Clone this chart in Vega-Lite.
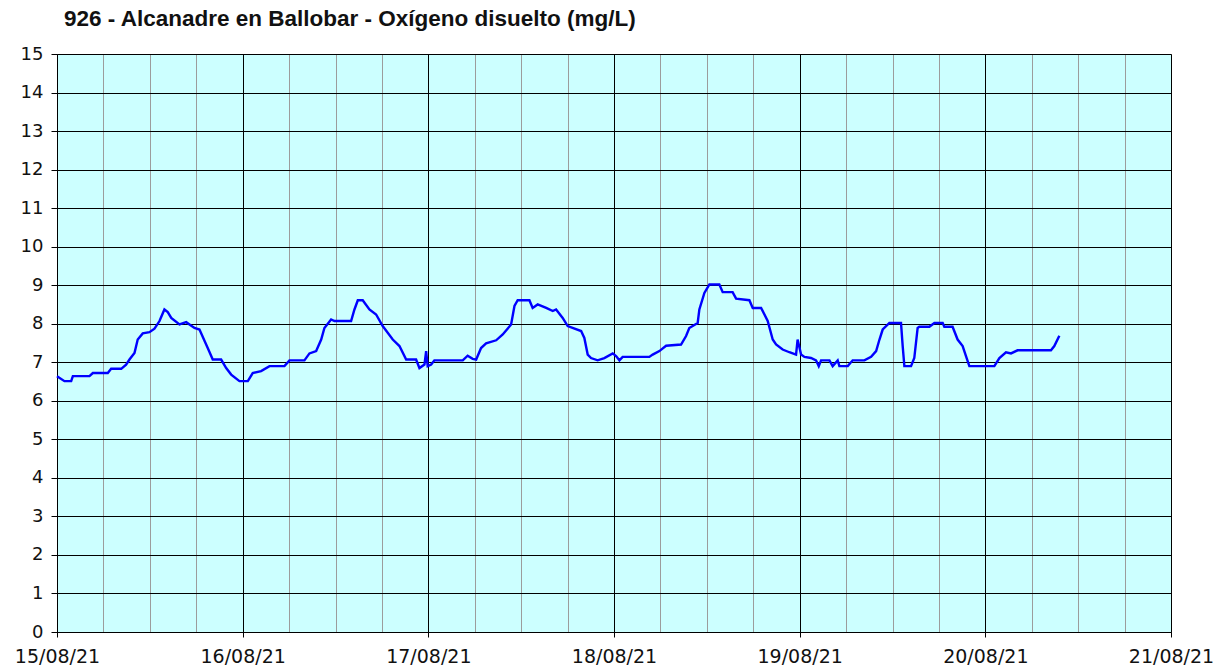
{
  "$schema": "https://vega.github.io/schema/vega-lite/v6.json",
  "width": 1114,
  "height": 578,
  "autosize": {"type": "none"},
  "padding": {"left": 57, "top": 54, "right": 61, "bottom": 40},
  "background": "white",
  "title": {
    "text": "926 - Alcanadre en Ballobar - Oxígeno disuelto (mg/L)",
    "anchor": "start",
    "frame": "group",
    "dx": 7,
    "font": "Liberation Sans",
    "fontSize": 22.5,
    "fontWeight": "bold",
    "color": "#111111",
    "offset": 15
  },
  "config": {
    "view": {"fill": "#ccffff", "stroke": "#a0a0a0", "strokeWidth": 1},
    "axis": {
      "labelFont": "DejaVu Sans",
      "labelFontSize": 18,
      "labelColor": "#111111",
      "domainColor": "#000000",
      "tickColor": "#000000",
      "domainWidth": 1,
      "tickWidth": 1,
      "gridWidth": 1,
      "gridOpacity": 1
    }
  },
  "data": {
    "values": [
      {"t": "2021-08-15T00:00", "v": 6.64},
      {"t": "2021-08-15T00:58", "v": 6.51},
      {"t": "2021-08-15T01:50", "v": 6.51},
      {"t": "2021-08-15T02:03", "v": 6.64},
      {"t": "2021-08-15T04:12", "v": 6.64},
      {"t": "2021-08-15T04:38", "v": 6.72},
      {"t": "2021-08-15T06:34", "v": 6.72},
      {"t": "2021-08-15T07:00", "v": 6.83},
      {"t": "2021-08-15T08:18", "v": 6.83},
      {"t": "2021-08-15T08:56", "v": 6.94},
      {"t": "2021-08-15T09:22", "v": 7.07},
      {"t": "2021-08-15T10:01", "v": 7.24},
      {"t": "2021-08-15T10:26", "v": 7.59},
      {"t": "2021-08-15T11:05", "v": 7.75},
      {"t": "2021-08-15T11:57", "v": 7.78},
      {"t": "2021-08-15T12:36", "v": 7.87},
      {"t": "2021-08-15T13:15", "v": 8.07},
      {"t": "2021-08-15T13:53", "v": 8.37},
      {"t": "2021-08-15T14:19", "v": 8.30},
      {"t": "2021-08-15T14:46", "v": 8.15},
      {"t": "2021-08-15T15:50", "v": 7.98},
      {"t": "2021-08-15T16:42", "v": 8.04},
      {"t": "2021-08-15T17:46", "v": 7.89},
      {"t": "2021-08-15T18:25", "v": 7.85},
      {"t": "2021-08-15T19:29", "v": 7.37},
      {"t": "2021-08-15T20:08", "v": 7.07},
      {"t": "2021-08-15T21:13", "v": 7.07},
      {"t": "2021-08-15T21:52", "v": 6.85},
      {"t": "2021-08-15T22:31", "v": 6.68},
      {"t": "2021-08-15T23:35", "v": 6.51},
      {"t": "2021-08-16T00:40", "v": 6.51},
      {"t": "2021-08-16T01:18", "v": 6.72},
      {"t": "2021-08-16T02:23", "v": 6.77},
      {"t": "2021-08-16T03:28", "v": 6.90},
      {"t": "2021-08-16T05:24", "v": 6.90},
      {"t": "2021-08-16T06:03", "v": 7.05},
      {"t": "2021-08-16T07:59", "v": 7.05},
      {"t": "2021-08-16T08:38", "v": 7.23},
      {"t": "2021-08-16T09:30", "v": 7.29},
      {"t": "2021-08-16T10:09", "v": 7.59},
      {"t": "2021-08-16T10:34", "v": 7.89},
      {"t": "2021-08-16T11:26", "v": 8.11},
      {"t": "2021-08-16T11:52", "v": 8.07},
      {"t": "2021-08-16T14:01", "v": 8.07},
      {"t": "2021-08-16T14:27", "v": 8.37},
      {"t": "2021-08-16T14:53", "v": 8.61},
      {"t": "2021-08-16T15:31", "v": 8.61},
      {"t": "2021-08-16T16:23", "v": 8.37},
      {"t": "2021-08-16T17:15", "v": 8.24},
      {"t": "2021-08-16T18:06", "v": 7.94},
      {"t": "2021-08-16T19:24", "v": 7.59},
      {"t": "2021-08-16T20:16", "v": 7.42},
      {"t": "2021-08-16T21:08", "v": 7.07},
      {"t": "2021-08-16T22:25", "v": 7.07},
      {"t": "2021-08-16T22:51", "v": 6.85},
      {"t": "2021-08-16T23:30", "v": 6.94},
      {"t": "2021-08-16T23:43", "v": 7.29},
      {"t": "2021-08-16T23:55", "v": 6.90},
      {"t": "2021-08-17T00:22", "v": 6.94},
      {"t": "2021-08-17T00:47", "v": 7.05},
      {"t": "2021-08-17T04:27", "v": 7.05},
      {"t": "2021-08-17T05:05", "v": 7.17},
      {"t": "2021-08-17T05:44", "v": 7.09},
      {"t": "2021-08-17T06:11", "v": 7.07},
      {"t": "2021-08-17T06:49", "v": 7.37},
      {"t": "2021-08-17T07:28", "v": 7.49},
      {"t": "2021-08-17T08:46", "v": 7.57},
      {"t": "2021-08-17T09:37", "v": 7.72},
      {"t": "2021-08-17T10:42", "v": 7.98},
      {"t": "2021-08-17T11:08", "v": 8.46},
      {"t": "2021-08-17T11:33", "v": 8.61},
      {"t": "2021-08-17T13:04", "v": 8.61},
      {"t": "2021-08-17T13:29", "v": 8.41},
      {"t": "2021-08-17T14:08", "v": 8.50},
      {"t": "2021-08-17T15:14", "v": 8.41},
      {"t": "2021-08-17T16:05", "v": 8.33},
      {"t": "2021-08-17T16:31", "v": 8.37},
      {"t": "2021-08-17T17:22", "v": 8.15},
      {"t": "2021-08-17T18:01", "v": 7.94},
      {"t": "2021-08-17T19:45", "v": 7.81},
      {"t": "2021-08-17T20:10", "v": 7.63},
      {"t": "2021-08-17T20:36", "v": 7.20},
      {"t": "2021-08-17T21:02", "v": 7.11},
      {"t": "2021-08-17T21:53", "v": 7.05},
      {"t": "2021-08-17T22:45", "v": 7.11},
      {"t": "2021-08-17T23:50", "v": 7.23},
      {"t": "2021-08-18T00:16", "v": 7.16},
      {"t": "2021-08-18T00:42", "v": 7.05},
      {"t": "2021-08-18T01:07", "v": 7.14},
      {"t": "2021-08-18T04:34", "v": 7.14},
      {"t": "2021-08-18T05:00", "v": 7.20},
      {"t": "2021-08-18T05:52", "v": 7.29},
      {"t": "2021-08-18T06:44", "v": 7.43},
      {"t": "2021-08-18T08:40", "v": 7.46},
      {"t": "2021-08-18T09:19", "v": 7.68},
      {"t": "2021-08-18T09:44", "v": 7.89},
      {"t": "2021-08-18T10:49", "v": 8.02},
      {"t": "2021-08-18T11:02", "v": 8.37},
      {"t": "2021-08-18T11:41", "v": 8.80},
      {"t": "2021-08-18T12:20", "v": 9.02},
      {"t": "2021-08-18T13:37", "v": 9.02},
      {"t": "2021-08-18T14:03", "v": 8.82},
      {"t": "2021-08-18T15:20", "v": 8.82},
      {"t": "2021-08-18T15:47", "v": 8.65},
      {"t": "2021-08-18T17:30", "v": 8.61},
      {"t": "2021-08-18T17:56", "v": 8.41},
      {"t": "2021-08-18T19:01", "v": 8.41},
      {"t": "2021-08-18T19:52", "v": 8.07},
      {"t": "2021-08-18T20:31", "v": 7.59},
      {"t": "2021-08-18T20:57", "v": 7.46},
      {"t": "2021-08-18T21:48", "v": 7.33},
      {"t": "2021-08-18T22:40", "v": 7.26},
      {"t": "2021-08-18T23:32", "v": 7.20},
      {"t": "2021-08-18T23:44", "v": 7.59},
      {"t": "2021-08-19T00:11", "v": 7.20},
      {"t": "2021-08-19T00:37", "v": 7.14},
      {"t": "2021-08-19T01:28", "v": 7.11},
      {"t": "2021-08-19T02:07", "v": 7.05},
      {"t": "2021-08-19T02:28", "v": 6.90},
      {"t": "2021-08-19T02:46", "v": 7.05},
      {"t": "2021-08-19T03:51", "v": 7.05},
      {"t": "2021-08-19T04:16", "v": 6.90},
      {"t": "2021-08-19T04:55", "v": 7.05},
      {"t": "2021-08-19T05:08", "v": 6.90},
      {"t": "2021-08-19T06:13", "v": 6.90},
      {"t": "2021-08-19T06:51", "v": 7.05},
      {"t": "2021-08-19T08:22", "v": 7.05},
      {"t": "2021-08-19T09:14", "v": 7.14},
      {"t": "2021-08-19T09:53", "v": 7.29},
      {"t": "2021-08-19T10:19", "v": 7.59},
      {"t": "2021-08-19T10:44", "v": 7.85},
      {"t": "2021-08-19T11:36", "v": 8.02},
      {"t": "2021-08-19T13:06", "v": 8.02},
      {"t": "2021-08-19T13:19", "v": 7.42},
      {"t": "2021-08-19T13:32", "v": 6.90},
      {"t": "2021-08-19T14:24", "v": 6.90},
      {"t": "2021-08-19T14:49", "v": 7.11},
      {"t": "2021-08-19T15:15", "v": 7.89},
      {"t": "2021-08-19T15:28", "v": 7.92},
      {"t": "2021-08-19T16:46", "v": 7.92},
      {"t": "2021-08-19T17:25", "v": 8.02},
      {"t": "2021-08-19T18:29", "v": 8.02},
      {"t": "2021-08-19T18:42", "v": 7.92},
      {"t": "2021-08-19T19:46", "v": 7.92},
      {"t": "2021-08-19T20:25", "v": 7.59},
      {"t": "2021-08-19T21:04", "v": 7.42},
      {"t": "2021-08-19T21:43", "v": 7.03},
      {"t": "2021-08-19T21:56", "v": 6.90},
      {"t": "2021-08-20T01:10", "v": 6.90},
      {"t": "2021-08-20T01:49", "v": 7.11},
      {"t": "2021-08-20T02:40", "v": 7.26},
      {"t": "2021-08-20T03:19", "v": 7.23},
      {"t": "2021-08-20T04:10", "v": 7.31},
      {"t": "2021-08-20T08:29", "v": 7.31},
      {"t": "2021-08-20T08:55", "v": 7.42},
      {"t": "2021-08-20T09:34", "v": 7.69}
    ]
  },
  "encoding": {
    "y": {
      "field": "v",
      "type": "quantitative",
      "scale": {"domain": [0, 15], "nice": false},
      "axis": {
        "title": null,
        "values": [0, 1, 2, 3, 4, 5, 6, 7, 8, 9, 10, 11, 12, 13, 14, 15],
        "labelOverlap": false,
        "labelFlush": false,
        "grid": true,
        "gridColor": "#000000",
        "tickSize": 6,
        "labelPadding": 8
      }
    }
  },
  "resolve": {"axis": {"x": "independent"}},
  "layer": [
    {
      "mark": {"type": "line", "color": "#0000ff", "strokeWidth": 2.2, "opacity": 0},
      "encoding": {
        "x": {
          "field": "t",
          "type": "temporal",
          "scale": {
            "domain": [
              {"year": 2021, "month": 8, "date": 15},
              {"year": 2021, "month": 8, "date": 21}
            ],
            "nice": false
          },
          "axis": {
            "orient": "bottom",
            "title": null,
            "grid": true,
            "gridColor": "#9c9c9c",
            "labels": false,
            "ticks": false,
            "domain": false,
            "values": [
              {"year": 2021, "month": 8, "date": 15, "hours": 6},
              {"year": 2021, "month": 8, "date": 15, "hours": 12},
              {"year": 2021, "month": 8, "date": 15, "hours": 18},
              {"year": 2021, "month": 8, "date": 16, "hours": 6},
              {"year": 2021, "month": 8, "date": 16, "hours": 12},
              {"year": 2021, "month": 8, "date": 16, "hours": 18},
              {"year": 2021, "month": 8, "date": 17, "hours": 6},
              {"year": 2021, "month": 8, "date": 17, "hours": 12},
              {"year": 2021, "month": 8, "date": 17, "hours": 18},
              {"year": 2021, "month": 8, "date": 18, "hours": 6},
              {"year": 2021, "month": 8, "date": 18, "hours": 12},
              {"year": 2021, "month": 8, "date": 18, "hours": 18},
              {"year": 2021, "month": 8, "date": 19, "hours": 6},
              {"year": 2021, "month": 8, "date": 19, "hours": 12},
              {"year": 2021, "month": 8, "date": 19, "hours": 18},
              {"year": 2021, "month": 8, "date": 20, "hours": 6},
              {"year": 2021, "month": 8, "date": 20, "hours": 12},
              {"year": 2021, "month": 8, "date": 20, "hours": 18}
            ]
          }
        }
      }
    },
    {
      "mark": {"type": "line", "color": "#0000ff", "strokeWidth": 2.4},
      "encoding": {
        "x": {
          "field": "t",
          "type": "temporal",
          "axis": {
            "orient": "bottom",
            "title": null,
            "format": "%d/%m/%y",
            "labelFontSize": 19,
            "labelOverlap": false,
            "labelFlush": false,
            "labelPadding": 10,
            "tickSize": 5,
            "grid": true,
            "gridColor": "#000000",
            "values": [
              {"year": 2021, "month": 8, "date": 15},
              {"year": 2021, "month": 8, "date": 16},
              {"year": 2021, "month": 8, "date": 17},
              {"year": 2021, "month": 8, "date": 18},
              {"year": 2021, "month": 8, "date": 19},
              {"year": 2021, "month": 8, "date": 20},
              {"year": 2021, "month": 8, "date": 21}
            ]
          }
        }
      }
    }
  ]
}
